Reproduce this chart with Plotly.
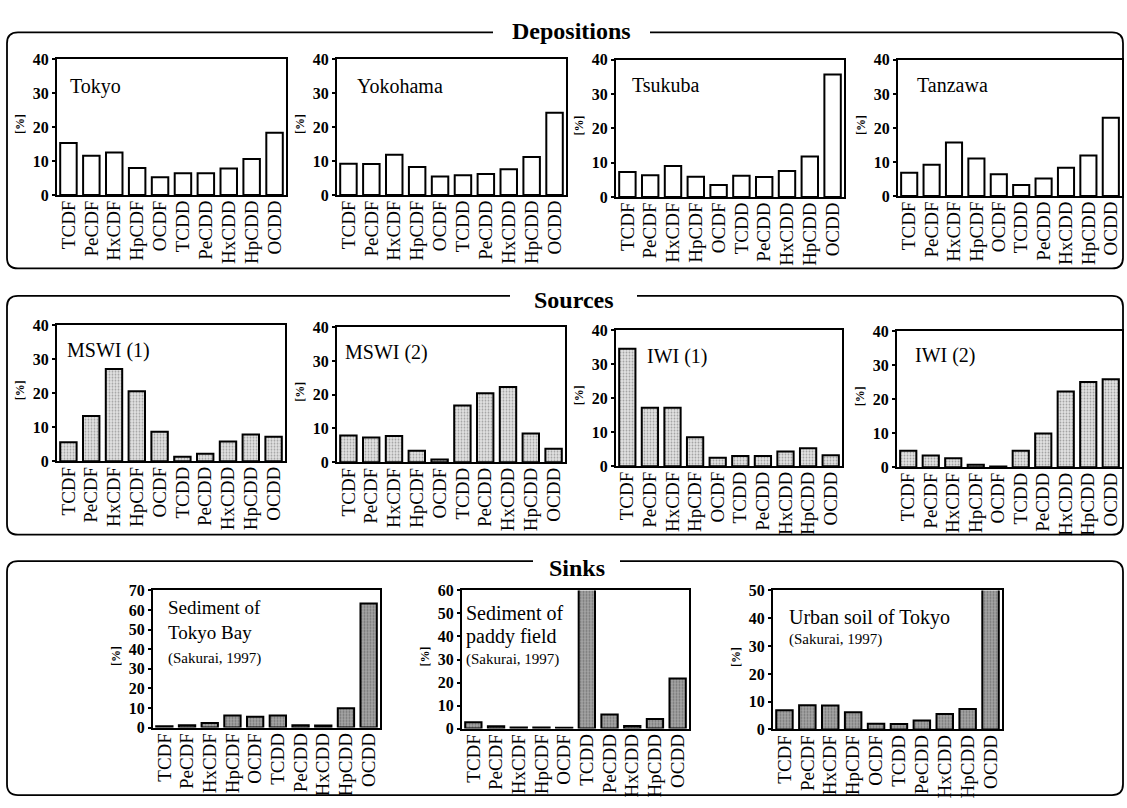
import plotly.graph_objects as go

W, H = 1127, 808
SERIF = "Liberation Serif"

congeners = ["TCDF", "PeCDF", "HxCDF", "HpCDF", "OCDF",
             "TCDD", "PeCDD", "HxCDD", "HpCDD", "OCDD"]

# Depositions [%]
tokyo = [15.3, 11.5, 12.5, 7.9, 5.2, 6.4, 6.4, 7.8, 10.6, 18.3]
yokohama = [9.2, 9.1, 11.8, 8.2, 5.4, 5.8, 6.2, 7.6, 11.2, 24.2]
tsukuba = [7.3, 6.3, 9.0, 5.9, 3.5, 6.2, 5.8, 7.6, 11.8, 35.7]
tanzawa = [6.8, 9.2, 15.7, 11.0, 6.4, 3.2, 5.1, 8.3, 11.9, 23.0]

# Sources [%]
mswi_1 = [5.6, 13.3, 27.1, 20.6, 8.7, 1.3, 2.2, 5.8, 7.9, 7.2]
mswi_2 = [7.9, 7.3, 7.8, 3.4, 0.8, 16.8, 20.4, 22.3, 8.5, 4.0]
iwi_1 = [34.5, 17.2, 17.2, 8.5, 2.5, 3.0, 3.0, 4.3, 5.3, 3.2]
iwi_2 = [4.8, 3.4, 2.6, 0.7, 0.2, 4.8, 9.9, 22.2, 25.0, 25.8]

# Sinks [%]
tokyo_bay = [0.6, 1.2, 2.3, 6.2, 5.5, 6.2, 1.2, 1.0, 9.9, 63.3]
paddy = [2.7, 1.0, 0.4, 0.4, 0.3, 61.0, 6.1, 1.1, 4.1, 21.7]
urban_soil = [6.9, 8.7, 8.6, 6.2, 2.1, 2.0, 3.2, 5.6, 7.4, 50.5]


def fx(px):
    return px / W


def fy(py):
    return 1 - py / H


STYLE = {
    "dep": dict(color="white", pattern=None),
    "src": dict(color="#e2e2e2",
                pattern=dict(shape=".", fgcolor="#606060", bgcolor="#e2e2e2",
                             size=3, solidity=0.3)),
    "snk": dict(color="#a6a6a6",
                pattern=dict(shape=".", fgcolor="#404040", bgcolor="#a6a6a6",
                             size=3, solidity=0.35)),
}

SMALL = "<span style='font-size:15px'>(Sakurai, 1997)</span>"

# (values, style, ymax, x-left, x-right, y-top, y-bottom, label lines)
panels = [
    (tokyo, "dep", 40, 57, 286, 52, 191, [("Tokyo", 68, 80, 20)]),
    (yokohama, "dep", 40, 337, 566, 52, 191, [("Yokohama", 355, 80, 20)]),
    (tsukuba, "dep", 40, 616, 844, 53, 193, [("Tsukuba", 630, 79, 20)]),
    (tanzawa, "dep", 40, 898, 1122, 53, 192, [("Tanzawa", 915, 79, 20)]),
    (mswi_1, "src", 40, 57, 285, 324, 463, [("MSWI (1)", 65, 350, 20)]),
    (mswi_2, "src", 40, 337, 565, 326, 464, [("MSWI (2)", 343, 352, 20)]),
    (iwi_1, "src", 40, 616, 842, 329, 468, [("IWI (1)", 645, 356, 20)]),
    (iwi_2, "src", 40, 897, 1122, 330, 469, [("IWI (2)", 913, 355, 20)]),
    (tokyo_bay, "snk", 70, 153, 380, 595, 735,
     [("Sediment of<br>Tokyo Bay<br>" + SMALL, 166, 637, 19)]),
    (paddy, "snk", 60, 462, 689, 595, 736,
     [("Sediment of", 464, 618, 20), ("paddy field", 464, 642, 20),
      ("(Sakurai, 1997)", 464, 665, 15)]),
    (urban_soil, "snk", 50, 773, 1002, 595, 737,
     [("Urban soil of Tokyo", 787, 623, 20), ("(Sakurai, 1997)", 787, 645, 15)]),
]

fig = go.Figure()
annotations = []
layout_axes = {}

for i, (vals, style, ymax, xl, xr, yt, yb, labels) in enumerate(panels):
    n = i + 1
    sfx = "" if n == 1 else str(n)
    st = STYLE[style]
    marker = dict(color=st["color"], line=dict(color="black", width=2))
    if st["pattern"] is not None:
        marker["pattern"] = st["pattern"]
    fig.add_trace(go.Bar(
        x=congeners, y=vals, width=0.72, marker=marker,
        xaxis="x" + sfx, yaxis="y" + sfx, showlegend=False,
        hoverinfo="x+y",
    ))
    layout_axes["xaxis" + sfx] = dict(
        domain=[fx(xl), fx(xr)], anchor="y" + sfx, type="category",
        range=[-0.5, 9.5], showline=True, mirror=True, linecolor="black",
        linewidth=2, ticks="", tickangle=-90, showgrid=False, zeroline=False,
        tickmode="array", tickvals=congeners, ticktext=congeners,
        ticklabelstandoff=-4,
        tickfont=dict(family=SERIF, size=19, color="black"), fixedrange=True,
    )
    layout_axes["yaxis" + sfx] = dict(
        domain=[fy(yb), fy(yt)], anchor="x" + sfx, range=[0, ymax], dtick=10,
        showline=True, mirror=True, linecolor="black", linewidth=2,
        ticks="outside", ticklen=3, tickwidth=1.5, tickcolor="black",
        showgrid=False, zeroline=False,
        tickfont=dict(family=SERIF, size=16, color="black", weight="bold"),
        fixedrange=True,
    )
    # y-axis unit
    annotations.append(dict(
        text="[%]", x=fx(xl - 37), y=fy((yt + yb) / 2 - 3), xref="paper",
        yref="paper", xanchor="center", yanchor="middle", showarrow=False,
        textangle=-90,
        font=dict(family=SERIF, size=12, color="black", weight="bold"),
    ))
    for txt, lx, ly, fs in labels:
        annotations.append(dict(
            text=txt, x=fx(lx), y=fy(ly), xref="paper", yref="paper",
            xanchor="left", yanchor="middle", align="left", showarrow=False,
            font=dict(family=SERIF, size=fs, color="black"),
        ))


def group_box(left, top, right, bottom, gap_l, gap_r, r=11):
    """Rounded frame whose top edge is broken for the group title."""
    L, T, R, B = fx(left), fy(top), fx(right), fy(bottom)
    rx, ry = r / W, r / H
    return (
        f"M {fx(gap_r)},{T} L {R - rx},{T} Q {R},{T} {R},{T - ry} "
        f"L {R},{B + ry} Q {R},{B} {R - rx},{B} "
        f"L {L + rx},{B} Q {L},{B} {L},{B + ry} "
        f"L {L},{T - ry} Q {L},{T} {L + rx},{T} L {fx(gap_l)},{T}"
    )


groups = [
    ("Depositions", 7, 25, 1123, 266, 493, 650, 23),
    ("Sources", 7, 294, 1123, 538, 510, 637, 298),
    ("Sinks", 7, 565, 1123, 804, 533, 620, 572),
]
shapes = []
for title, l, t, r, b, gl, gr, ty in groups:
    shapes.append(dict(type="path", path=group_box(l, t, r, b, gl, gr),
                       xref="paper", yref="paper",
                       line=dict(color="black", width=1.8)))
    annotations.append(dict(
        text=title, x=fx((gl + gr) / 2), y=fy(ty), xref="paper", yref="paper",
        xanchor="center", yanchor="middle", showarrow=False,
        font=dict(family=SERIF, size=24, color="black", weight="bold"),
    ))

fig.update_layout(
    width=W, height=H, margin=dict(l=0, r=0, t=0, b=0),
    paper_bgcolor="white", plot_bgcolor="white",
    annotations=annotations, shapes=shapes, **layout_axes,
)

fig.write_html("out.html")
